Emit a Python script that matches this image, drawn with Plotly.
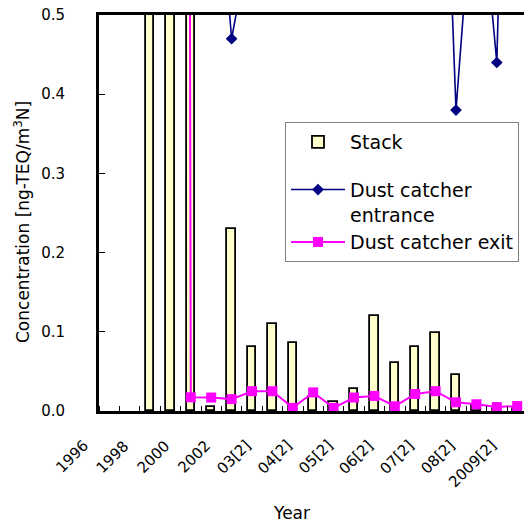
import plotly.graph_objects as go

# Sampling campaigns (one per year until 2002, then two per year)
categories = ["1996", "1997", "1998", "1999", "2000", "2001", "2002",
              "03[1]", "03[2]", "04[1]", "04[2]", "05[1]", "05[2]",
              "06[1]", "06[2]", "07[1]", "07[2]", "08[1]", "08[2]",
              "2009[1]", "2009[2]"]

# Dioxin concentration, ng-TEQ/m3N
stack = [None, None, 3.2, 6.0, 1.1, 0.0055, 0.23, 0.081, 0.110, 0.086, 0.018,
         0.012, 0.028, 0.120, 0.061, 0.081, 0.098, 0.045, 0.007, 0.003, 0.003]
catcher_entrance = [None, None, None, None, None, 0.79, 0.47, 0.61, 3.5, 5.2, 2.1,
                    1.6, 2.4, 1.9, 1.2, 1.5, 1.07, 0.38, 0.72, 0.44, 1.4]
catcher_exit = [None, None, None, 12.0, 0.0173, 0.017, 0.015, 0.025, 0.025, 0.004,
                0.0235, 0.004, 0.017, 0.019, 0.006, 0.0215, 0.025, 0.011, 0.0085,
                0.005, 0.0063]

# Only every other campaign is labelled on the axis
label_step = 2

xpos = list(range(len(categories)))
tickvals = xpos[::label_step]
ticktext = categories[::label_step]

FONT = "DejaVu Sans, Noto Sans CJK JP, sans-serif"

fig = go.Figure()
fig.add_trace(go.Bar(
    x=xpos, y=stack, name="Stack", width=0.42,
    marker=dict(color="#FFFFCC", line=dict(color="black", width=1.8)),
    legendgroup="stack",
))
fig.add_trace(go.Scatter(
    x=xpos, y=catcher_entrance, name="Dust catcher<br>entrance",
    mode="lines+markers", line=dict(color="#000080", width=1.6),
    marker=dict(symbol="diamond", size=9, color="#000080"),
    legendgroup="catcher",
))
fig.add_trace(go.Scatter(
    x=xpos, y=catcher_exit, name="Dust catcher exit",
    mode="lines+markers", line=dict(color="#FF00FF", width=2),
    marker=dict(symbol="square", size=10, color="#FF00FF"),
    legendgroup="catcher",
))

L, R, T, B = 99, 0, 15, 114
W, H = 524, 525
pw, ph = W - L - R, H - T - B
cat_px = 20.4


def px_x(px):
    return (px - L) / pw


def px_y(py):
    return (H - B - py) / ph


fig.update_layout(
    width=W, height=H,
    margin=dict(l=L, r=R, t=T, b=B),
    paper_bgcolor="white", plot_bgcolor="white",
    font=dict(family=FONT, size=15, color="black"),
    showlegend=True,
    legend=dict(
        x=px_x(285), y=px_y(122), xanchor="left", yanchor="top",
        bgcolor="white", bordercolor="#808080", borderwidth=1,
        font=dict(size=19), tracegroupgap=20, valign="top",
        traceorder="grouped", itemwidth=54,
    ),
    xaxis=dict(
        range=[-0.5, -0.5 + pw / cat_px],
        tickmode="array", tickvals=tickvals, showticklabels=False,
        ticks="", showgrid=False, zeroline=False,
        showline=True, linecolor="black", linewidth=3, mirror=True,
        minor=dict(tickmode="linear", tick0=-0.5, dtick=1, ticks="inside",
                   ticklen=5, tickcolor="black", tickwidth=1, showgrid=False),
    ),
    yaxis=dict(
        range=[0, 0.5], dtick=0.1, tickformat=".1f",
        ticks="inside", ticklen=6, tickcolor="black",
        showgrid=False, zeroline=False,
        showline=True, linecolor="black", linewidth=3,
        ticklabelstandoff=28,
    ),
    bargap=0,
)

# Slanted category labels, hung just left of each labelled category
for v, t in zip(tickvals, ticktext):
    fig.add_annotation(
        x=v, xref="x", y=px_y(434), yref="paper", text=t,
        textangle=-45, xanchor="right", yanchor="top", xshift=-15,
        showarrow=False, font=dict(size=15),
    )

fig.add_annotation(
    text="Year", xref="paper", yref="paper",
    x=px_x(291.5), y=px_y(513), showarrow=False,
    font=dict(size=17), xanchor="center", yanchor="middle",
)
fig.add_annotation(
    text="Concentration [ng-TEQ/m<sup>3</sup>N]", xref="paper", yref="paper",
    x=px_x(22), y=px_y(222), showarrow=False, textangle=-90,
    font=dict(size=17), xanchor="center", yanchor="middle",
)

fig.write_html("out.html")
